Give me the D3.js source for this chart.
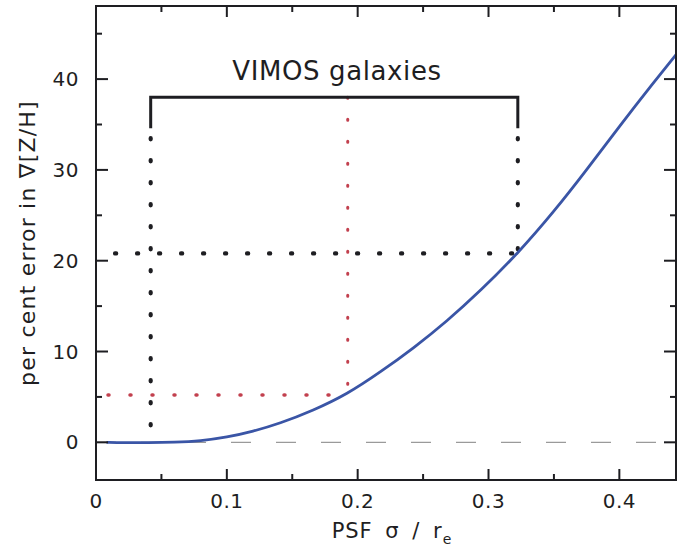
<!DOCTYPE html>
<html><head><meta charset="utf-8">
<script src="https://cdn.jsdelivr.net/npm/d3@7"></script>
<style>body{margin:0;background:#fff;} svg{display:block;}</style>
</head><body>
<svg id="c" width="677" height="554"></svg>
<script>
// Data
const curveX = [0.008, 0.02, 0.04, 0.06, 0.08, 0.10, 0.12, 0.14, 0.166, 0.192, 0.217, 0.243, 0.268, 0.294, 0.3224, 0.35, 0.375, 0.40, 0.426, 0.445];
const curveY = [0.0, -0.05, -0.05, 0.0, 0.15, 0.55, 1.2, 2.05, 3.5, 5.3, 7.7, 10.4, 13.3, 16.7, 20.8, 25.4, 30.0, 34.8, 39.6, 43.0];
const xMajorTicks = [0, 0.1, 0.2, 0.3, 0.4];
const xMinorTicks = [0.05, 0.15, 0.25, 0.35];
const yMajorTicks = [0, 10, 20, 30, 40];
const yMinorTicks = [5, 15, 25, 35, 45];
const bracketX = [0.0418, 0.3224];
const bracketTop = 38;
const bracketSolidBottom = 34.6;
const vimosErr = 20.8;      // black dotted level at right bracket edge
const medianX = 0.1924;     // red dotted
const medianErr = 5.2;
const label = "VIMOS galaxies";

const svg = d3.select("#c");
const x = d3.scaleLinear().domain([0, 0.4433]).range([96, 676]);
const y = d3.scaleLinear().domain([-4.15, 48.05]).range([480, 6]);
const ink = "#1e1e22";
const font = "'DejaVu Sans', sans-serif";

// zero dashed line
svg.append("line").attr("x1", x(0)).attr("x2", x(0.4433)).attr("y1", y(0)).attr("y2", y(0))
  .attr("stroke", "#9a9a9a").attr("stroke-width", 1.2).attr("stroke-dasharray", "20,25");

// red dotted lines
const red = "#c2404e";
svg.append("line").attr("x1", x(0) + 12).attr("x2", x(medianX)).attr("y1", y(medianErr)).attr("y2", y(medianErr))
  .attr("stroke", red).attr("stroke-width", 3.5).attr("stroke-linecap", "round").attr("stroke-dasharray", "1,21");
svg.append("line").attr("x1", x(medianX)).attr("x2", x(medianX)).attr("y1", y(bracketTop)).attr("y2", y(medianErr))
  .attr("stroke", red).attr("stroke-width", 3).attr("stroke-linecap", "round").attr("stroke-dasharray", "1,21");

// black dotted lines
svg.append("line").attr("x1", x(0) + 19).attr("x2", x(bracketX[1])).attr("y1", y(vimosErr)).attr("y2", y(vimosErr))
  .attr("stroke", ink).attr("stroke-width", 4.2).attr("stroke-linecap", "round").attr("stroke-dasharray", "1.2,20.8");
svg.append("line").attr("x1", x(bracketX[0])).attr("x2", x(bracketX[0])).attr("y1", y(bracketSolidBottom) + 10).attr("y2", y(0))
  .attr("stroke", ink).attr("stroke-width", 4.2).attr("stroke-linecap", "round").attr("stroke-dasharray", "1.2,20.8");
svg.append("line").attr("x1", x(bracketX[1])).attr("x2", x(bracketX[1])).attr("y1", y(bracketSolidBottom) + 10).attr("y2", y(vimosErr))
  .attr("stroke", ink).attr("stroke-width", 4.2).attr("stroke-linecap", "round").attr("stroke-dasharray", "1.2,20.8");

// bracket
svg.append("path")
  .attr("d", `M${x(bracketX[0])},${y(bracketSolidBottom)}V${y(bracketTop)}H${x(bracketX[1])}V${y(bracketSolidBottom)}`)
  .attr("fill", "none").attr("stroke", ink).attr("stroke-width", 3);

svg.append("text").attr("x", 337).attr("y", 80).attr("text-anchor", "middle")
  .attr("font-family", font).attr("font-size", 26).attr("letter-spacing", 0.6).attr("fill", ink).text(label);

// curve
const pts = curveX.map((d, i) => [d, curveY[i]]);
svg.append("path").datum(pts)
  .attr("d", d3.line().x(d => x(d[0])).y(d => y(d[1])).curve(d3.curveBasis))
  .attr("fill", "none").attr("stroke", "#3a55a6").attr("stroke-width", 2.8);

// frame
svg.append("rect").attr("x", 96).attr("y", 6).attr("width", 580).attr("height", 474)
  .attr("fill", "none").attr("stroke", ink).attr("stroke-width", 2);

// ticks
const tk = svg.append("g").attr("stroke", ink).attr("stroke-width", 2);
xMajorTicks.forEach(t => {
  tk.append("line").attr("x1", x(t)).attr("x2", x(t)).attr("y1", 480).attr("y2", 469);
  tk.append("line").attr("x1", x(t)).attr("x2", x(t)).attr("y1", 6).attr("y2", 17);
});
xMinorTicks.forEach(t => {
  tk.append("line").attr("x1", x(t)).attr("x2", x(t)).attr("y1", 480).attr("y2", 474);
  tk.append("line").attr("x1", x(t)).attr("x2", x(t)).attr("y1", 6).attr("y2", 12);
});
yMajorTicks.forEach(t => {
  tk.append("line").attr("x1", 96).attr("x2", 108).attr("y1", y(t)).attr("y2", y(t));
  tk.append("line").attr("x1", 676).attr("x2", 664).attr("y1", y(t)).attr("y2", y(t));
});
yMinorTicks.forEach(t => {
  tk.append("line").attr("x1", 96).attr("x2", 102).attr("y1", y(t)).attr("y2", y(t));
  tk.append("line").attr("x1", 676).attr("x2", 670).attr("y1", y(t)).attr("y2", y(t));
});

// tick labels
const fmtX = d => d === 0 ? "0" : d3.format(".1f")(d);
svg.append("g").selectAll("text").data(xMajorTicks).join("text")
  .attr("x", d => x(d)).attr("y", 508).attr("text-anchor", "middle")
  .attr("font-family", font).attr("font-size", 20).attr("letter-spacing", 0.5).attr("fill", ink).text(fmtX);
svg.append("g").selectAll("text").data(yMajorTicks).join("text")
  .attr("x", 79).attr("y", d => y(d) + 7).attr("text-anchor", "end")
  .attr("font-family", font).attr("font-size", 20).attr("letter-spacing", 0.5).attr("fill", ink).text(d => d);

// axis titles
const xt = svg.append("text").attr("x", 392).attr("y", 538).attr("text-anchor", "middle")
  .attr("font-family", font).attr("font-size", 21).attr("letter-spacing", 1).attr("word-spacing", 5).attr("fill", ink);
xt.append("tspan").text("PSF σ / r");
xt.append("tspan").attr("font-size", 14).attr("dy", 6).text("e");

svg.append("text").attr("transform", "translate(35,243) rotate(-90)").attr("text-anchor", "middle")
  .attr("font-family", font).attr("font-size", 22).attr("letter-spacing", 1.2).attr("fill", ink)
  .text("per cent error in ∇[Z/H]");
</script>
</body></html>
